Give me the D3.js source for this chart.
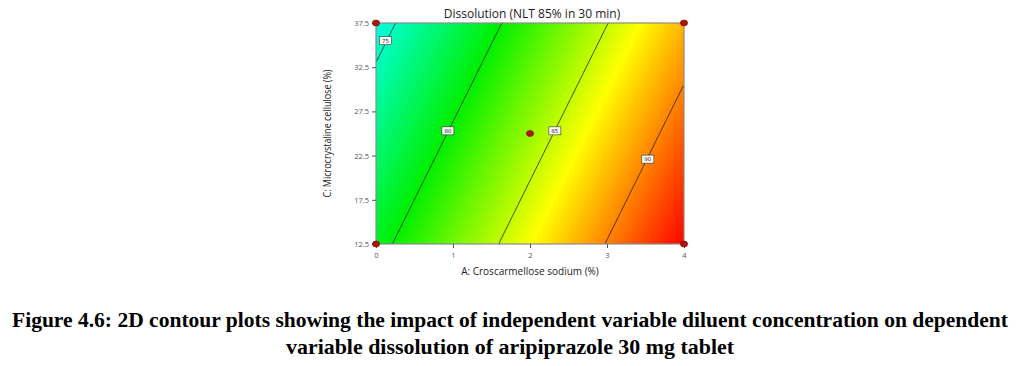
<!DOCTYPE html>
<html>
<head>
<meta charset="utf-8">
<script src="https://cdn.jsdelivr.net/npm/d3@7"></script>
<style>
  body { margin: 0; background: #fff; }
  svg { display: block; }
</style>
</head>
<body>
<div id="chart"></div>
<script>
// factor ranges (A: croscarmellose sodium, C: microcrystaline cellulose)
const xTicks = [0, 1, 2, 3, 4];
const yTicks = [12.5, 17.5, 22.5, 27.5, 32.5, 37.5];
// fitted linear model: Y = b0 + bA*A + bC*C
const coef = [81.8, 3.6, -0.204];
const levels = [75, 80, 85, 90];
// where the little contour labels sit (C value on each line)
const labelAt = [35.5, 25.3, 25.3, 22.1];
// design points
const designPts = [[0, 37.5], [4, 37.5], [0, 12.5], [4, 12.5], [2, 25]];
const colorStops = [74, 80, 86.5, 93.7];
const colorVals = ["#00ffe8", "#00f000", "#ffff00", "#ff0000"];

const W = 1033, H = 366;
const x = d3.scaleLinear().domain([0, 4]).range([376, 684]);
const y = d3.scaleLinear().domain([12.5, 37.5]).range([244, 23]);
const color = d3.scaleLinear().domain(colorStops).range(colorVals).clamp(true);
const model = (a, c) => coef[0] + coef[1] * a + coef[2] * c;

const svg = d3.select("#chart").append("svg")
    .attr("width", W).attr("height", H);

// fill: paint each pixel of the plot box on a canvas, drop it in as an image
const pw = Math.round(x(4) - x(0)), ph = Math.round(y(12.5) - y(37.5));
const cv = document.createElement("canvas");
cv.width = pw; cv.height = ph;
const ctx = cv.getContext("2d");
const img = ctx.createImageData(pw, ph);
for (let j = 0; j < ph; j++) {
    for (let i = 0; i < pw; i++) {
        const v = model(x.invert(x(0) + i + 0.5), y.invert(y(37.5) + j + 0.5));
        const c = d3.rgb(color(v));
        const k = (j * pw + i) * 4;
        img.data[k] = c.r; img.data[k + 1] = c.g; img.data[k + 2] = c.b; img.data[k + 3] = 255;
    }
}
ctx.putImageData(img, 0, 0);
svg.append("image")
    .attr("x", x(0)).attr("y", y(37.5))
    .attr("width", pw).attr("height", ph)
    .attr("href", cv.toDataURL());

// contour lines from a grid
const nx = 161, ny = 101;
const grid = new Array(nx * ny);
for (let j = 0; j < ny; j++)
    for (let i = 0; i < nx; i++)
        grid[j * nx + i] = model(4 * i / (nx - 1), 37.5 - 25 * j / (ny - 1));
const contours = d3.contours().size([nx, ny]).thresholds(levels)(grid);
const gx = d3.scaleLinear().domain([0, nx]).range([x(0), x(4)]);
const gy = d3.scaleLinear().domain([0, ny]).range([y(37.5), y(12.5)]);

// keep only the iso-line segments inside the box (drop the box edges of the polygons)
const eps = 0.01;
const edge = p => p[0] <= eps || p[0] >= nx - eps || p[1] <= eps || p[1] >= ny - eps;
contours.forEach(ct => {
    ct.coordinates.forEach(poly => poly.forEach(ring => {
        const segs = [];
        let cur = [];
        ring.forEach(p => {
            cur.push(p);
            if (edge(p)) {
                if (cur.length > 1) segs.push(cur);
                cur = [p];
            }
        });
        if (cur.length > 1) segs.push(cur);
        segs.forEach(s => {
            if (!s.some(p => !edge(p))) return;
            svg.append("path")
                .attr("d", d3.line()(s.map(p => [gx(p[0]), gy(p[1])])))
                .attr("fill", "none")
                .attr("stroke", "#1a1a1a")
                .attr("stroke-width", 0.8);
        });
    }));
});

// contour labels
levels.forEach((lv, i) => {
    const c = labelAt[i];
    const a = (lv - coef[0] - coef[2] * c) / coef[1];
    const g = svg.append("g").attr("transform", `translate(${x(a)},${y(c)})`);
    g.append("rect").attr("x", -6).attr("y", -4).attr("width", 12).attr("height", 8)
        .attr("fill", "#fff").attr("stroke", "#333").attr("stroke-width", 0.6);
    g.append("text").attr("text-anchor", "middle").attr("dy", "0.35em")
        .attr("font-family", "DejaVu Sans").attr("font-size", 5.5).attr("fill", "#222")
        .text(lv);
});

// frame
svg.append("rect")
    .attr("x", x(0)).attr("y", y(37.5))
    .attr("width", x(4) - x(0)).attr("height", y(12.5) - y(37.5))
    .attr("fill", "none").attr("stroke", "#8a8a8a").attr("stroke-width", 1.2);

// axes
const xAxis = svg.append("g")
    .attr("transform", `translate(0,${y(12.5)})`)
    .call(d3.axisBottom(x).tickValues(xTicks).tickSize(4).tickFormat(d3.format("d")));
const yAxis = svg.append("g")
    .attr("transform", `translate(${x(0)},0)`)
    .call(d3.axisLeft(y).tickValues(yTicks).tickSize(4).tickFormat(d3.format(".1f")));
[xAxis, yAxis].forEach(ax => {
    ax.select(".domain").remove();
    ax.selectAll(".tick line").attr("stroke", "#555");
    ax.selectAll(".tick text")
        .attr("font-family", "Open Sans, sans-serif").attr("font-size", 7.5).attr("fill", "#555");
});
xAxis.selectAll(".tick text").attr("dy", "0.9em");

// design points
svg.selectAll(".pt").data(designPts).join("ellipse")
    .attr("cx", d => x(d[0])).attr("cy", d => y(d[1]))
    .attr("rx", 3.6).attr("ry", 3)
    .attr("fill", "#b0140c").attr("stroke", "#6a0a05").attr("stroke-width", 0.6);

// titles
svg.append("text")
    .attr("x", (x(0) + x(4)) / 2 + 2).attr("y", 18)
    .attr("text-anchor", "middle")
    .attr("font-family", "Open Sans, sans-serif").attr("font-size", 12).attr("fill", "#222")
    .text("Dissolution (NLT 85% in 30 min)");
svg.append("text")
    .attr("x", (x(0) + x(4)) / 2).attr("y", 275)
    .attr("text-anchor", "middle")
    .attr("font-family", "Open Sans, sans-serif").attr("font-size", 10).attr("fill", "#222")
    .text("A: Croscarmellose sodium (%)");
svg.append("text")
    .attr("transform", `translate(331,${(y(12.5) + y(37.5)) / 2}) rotate(-90)`)
    .attr("text-anchor", "middle")
    .attr("font-family", "Open Sans, sans-serif").attr("font-size", 10).attr("fill", "#222")
    .attr("textLength", 128).attr("lengthAdjust", "spacingAndGlyphs")
    .text("C: Microcrystaline cellulose (%)");

// caption
const cap = [
    ["Figure 4.6: 2D contour plots showing the impact of independent variable diluent concentration on dependent", 327, 996],
    ["variable dissolution of aripiprazole 30 mg tablet", 354, 448]
];
cap.forEach(([t, yy, len]) => {
    svg.append("text")
        .attr("x", 510).attr("y", yy)
        .attr("text-anchor", "middle")
        .style("font-family", "'Liberation Serif', 'Times New Roman', serif")
        .style("font-weight", "bold")
        .style("font-size", "21px").attr("fill", "#000")
        .attr("textLength", len).attr("lengthAdjust", "spacingAndGlyphs")
        .text(t);
});
</script>
</body>
</html>
